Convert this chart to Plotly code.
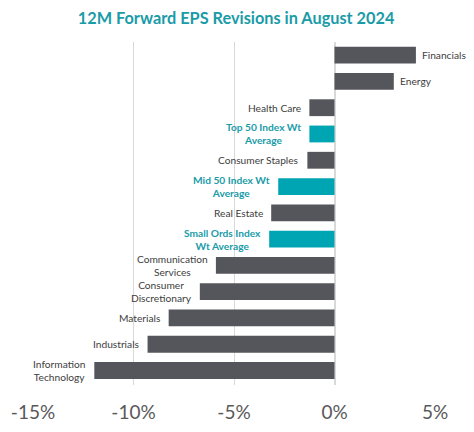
####################################################################################################################
# plot.py
#
# 12M forward EPS revisions, August 2024 - horizontal bars



####################################################################################################################
# IMPORTS
import plotly.graph_objects as go



####################################################################################################################
# DATA

categories = ['Financials', 'Energy', 'Health Care', 'Top 50 Index Wt<br>Average', 'Consumer Staples',
              'Mid 50 Index Wt<br>Average', 'Real Estate', 'Small Ords Index<br>Wt Average',
              'Communication<br>Services', 'Consumer<br>Discretionary', 'Materials', 'Industrials',
              'Information<br>Technology']
revisions = [4.05, 2.95, -1.25, -1.25, -1.35, -2.8, -3.15, -3.25, -5.9, -6.7, -8.25, -9.3, -11.95]
is_index = [False, False, False, True, False, True, False, True, False, False, False, False, False]

x_ticks = [-15, -10, -5, 0, 5]
x_tick_text = ['-15%', '-10%', '-5%', '0%', '5%']

title_text = '12M Forward EPS Revisions in August 2024'



####################################################################################################################
# SCRIPT

grey = '#54565b'
teal = '#00a5b3'

bar_colors = [teal if idx else grey for idx in is_index]

fig = go.Figure(go.Bar(
    x=revisions,
    y=categories,
    orientation='h',
    marker=dict(color=bar_colors, line=dict(width=0)),
    hoverinfo='x+y',
))

# bar labels sit just past the end of each bar
for cat, val, idx in zip(categories, revisions, is_index):
    fig.add_annotation(
        x=val, y=cat,
        text='<b>' + cat + '</b>' if idx else cat,
        showarrow=False,
        xanchor='left' if val > 0 else 'right',
        xshift=4 if val > 0 else -6,
        align='center',
        font=dict(family='Lato', size=10.2, color='#1a9ba8' if idx else '#404040'),
    )

# page body adds 8px margin all round, so size the figure to fit the window without scrollbars
fig.update_layout(
    width=458,
    height=416,
    margin=dict(l=25, r=31, t=34, b=39),
    paper_bgcolor='white',
    plot_bgcolor='white',
    bargap=0.36,
    showlegend=False,
    title=dict(text='<b>' + title_text + '</b>', x=0.498, xanchor='center', y=0.976, yanchor='middle',
               font=dict(family='Lato', size=16.3, color='#1a9ba8')),
    xaxis=dict(
        range=[-15, 5],
        tickvals=x_ticks,
        ticktext=x_tick_text,
        showgrid=True,
        gridcolor='#d9d9d9',
        gridwidth=1,
        zeroline=True,
        zerolinecolor='#d9d9d9',
        showline=False,
        ticks='',
        ticklabelstandoff=14,
        automargin=False,
        tickfont=dict(family='Lato', size=19, color='#595959'),
    ),
    yaxis=dict(
        autorange='reversed',
        showticklabels=False,
        showgrid=False,
        zeroline=False,
        ticks='',
        automargin=False,
    ),
)

fig.write_html('out.html')
